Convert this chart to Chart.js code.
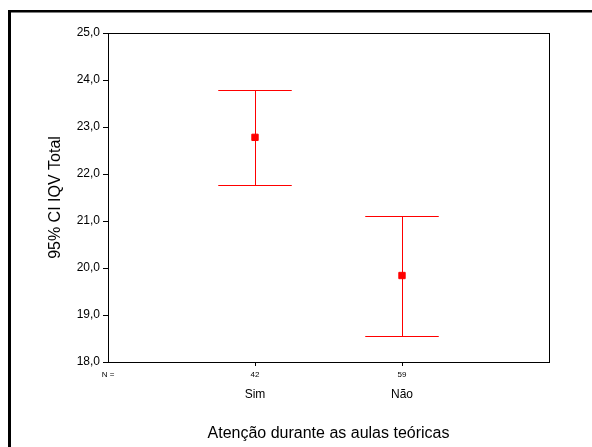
<!DOCTYPE html>
<html>
<head>
<meta charset="utf-8">
<script src="https://cdn.jsdelivr.net/npm/chart.js@4"></script>
<style>
  body { margin: 0; background: #fff; }
  #wrap { width: 592px; height: 447px; }
</style>
</head>
<body>
<div id="wrap"><canvas id="myChart" width="592" height="447"></canvas></div>
<script>
const categories = ['Sim', 'Não'];
const counts = [42, 59];
const means = [22.78, 19.84];
const lower = [21.77, 18.55];
const upper = [23.78, 21.11];
const yTicks = [18, 19, 20, 21, 22, 23, 24, 25];

Chart.defaults.color = '#000';
Chart.defaults.font.family = '"Liberation Sans", Arial, sans-serif';

// cadre + barres d'erreur + effectifs
const extras = {
  id: 'extras',
  beforeDraw(chart) {
    const ctx = chart.ctx;
    ctx.save();
    ctx.fillStyle = '#000';
    ctx.fillRect(8, 10, 600, 2.5);
    ctx.fillRect(8, 10, 3, 450);
    ctx.restore();
  },
  beforeDatasetsDraw(chart) {
    const ctx = chart.ctx;
    const xs = chart.scales.x, ys = chart.scales.y;
    ctx.save();
    ctx.strokeStyle = '#ff0000';
    ctx.lineWidth = 1;
    categories.forEach((c, i) => {
      const x = Math.round(xs.getPixelForValue(i + 1)) + 0.5;
      const x0 = xs.getPixelForValue(i + 1 - 0.25);
      const x1 = xs.getPixelForValue(i + 1 + 0.25);
      const yl = Math.round(ys.getPixelForValue(lower[i])) + 0.5;
      const yu = Math.round(ys.getPixelForValue(upper[i])) + 0.5;
      ctx.beginPath();
      ctx.moveTo(x, yl); ctx.lineTo(x, yu);
      ctx.moveTo(x0, yl); ctx.lineTo(x1, yl);
      ctx.moveTo(x0, yu); ctx.lineTo(x1, yu);
      ctx.stroke();
    });
    ctx.restore();
  },
  afterDraw(chart) {
    const ctx = chart.ctx;
    const a = chart.chartArea;
    const xs = chart.scales.x;
    ctx.save();
    ctx.strokeStyle = '#000';
    ctx.lineWidth = 1;
    ctx.strokeRect(Math.round(a.left) + 0.5, Math.round(a.top) + 0.5,
      Math.round(a.right - a.left), Math.round(a.bottom - a.top));
    ctx.fillStyle = '#000';
    ctx.font = '8px "Liberation Sans", Arial, sans-serif';
    ctx.textAlign = 'center';
    ctx.textBaseline = 'middle';
    ctx.fillText('N =', a.left, a.bottom + 13);
    counts.forEach((n, i) => {
      ctx.fillText(String(n), xs.getPixelForValue(i + 1), a.bottom + 13);
    });
    ctx.restore();
  }
};

const ctx = document.getElementById('myChart').getContext('2d');
const chart = new Chart(ctx, {
  type: 'scatter',
  data: {
    datasets: [{
      label: 'IQV Total',
      data: means.map((m, i) => ({ x: i + 1, y: m })),
      pointStyle: 'rect',
      pointRadius: 4.5,
      pointHoverRadius: 4.5,
      backgroundColor: '#ff0000',
      borderColor: '#ff0000',
      borderWidth: 1
    }]
  },
  options: {
    responsive: false,
    animation: false,
    layout: { padding: { top: 33, right: 43, left: 0, bottom: 0 } },
    plugins: { legend: { display: false }, tooltip: { enabled: false } },
    scales: {
      x: {
        type: 'linear',
        min: 0,
        max: 3,
        afterBuildTicks: axis => { axis.ticks = categories.map((c, i) => ({ value: i + 1 })); },
        afterFit: scale => { scale.height = 85; },
        grid: { drawOnChartArea: false, drawTicks: true, tickLength: 4, color: '#000' },
        border: { display: true, color: '#000', width: 1 },
        ticks: {
          padding: 21,
          font: { size: 12 },
          callback: v => categories[v - 1] || ''
        },
        title: {
          display: true,
          text: 'Atenção durante as aulas teóricas',
          font: { size: 16 },
          padding: { top: 0, bottom: 4 }
        }
      },
      y: {
        min: 18,
        max: 25,
        afterBuildTicks: axis => { axis.ticks = yTicks.map(v => ({ value: v })); },
        afterFit: scale => { scale.width = 108; },
        grid: { drawOnChartArea: false, drawTicks: true, tickLength: 5, color: '#000' },
        border: { display: true, color: '#000', width: 1 },
        ticks: {
          padding: 3,
          font: { size: 12 },
          callback: v => v.toFixed(1).replace('.', ',')
        },
        title: {
          display: true,
          text: '95% CI IQV Total',
          font: { size: 16 },
          padding: { top: 46, bottom: 0 }
        }
      }
    }
  },
  plugins: [extras]
});
</script>
</body>
</html>
